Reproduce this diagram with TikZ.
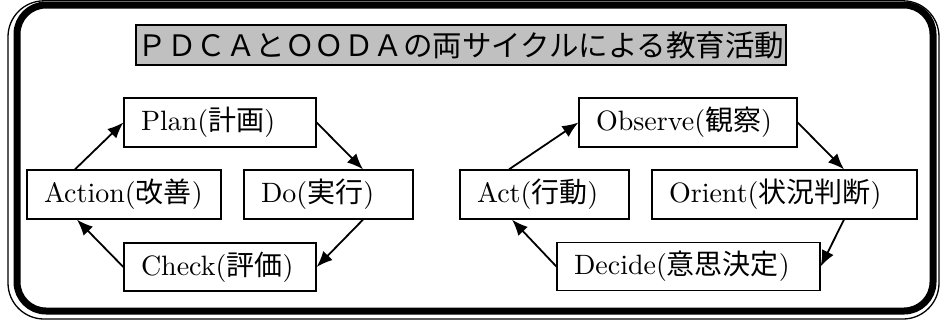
\documentclass[tikz,border=0pt]{standalone}
\usepackage{fontspec}
\setmainfont{lmroman10-regular}[Extension=.otf]
\newfontfamily\jp{Noto Sans CJK JP}
\usetikzlibrary{arrows.meta,calc}
\definecolor{titlegray}{RGB}{192,192,192}
\begin{document}
\begin{tikzpicture}[x=1pt,y=-1pt,
  stepbox/.style={draw,line width=1.3pt,minimum height=49pt,inner xsep=17pt,inner ysep=0pt,align=left,font=\fontsize{28}{30}\selectfont},
  flow/.style={line width=1.8pt,-{Latex[length=16pt,width=13pt]},shorten >=0pt}]
\useasboundingbox (0,0) rectangle (944,322);
% frame
\draw[line width=1.3pt,rounded corners=36pt] (8,0.8) rectangle (939,319);
\draw[line width=7pt,rounded corners=29pt] (17,5) rectangle (933,311);
% title
\node[draw,fill=titlegray,line width=1.3pt,minimum width=650pt,minimum height=40pt,inner sep=0pt,font=\fontsize{29.5}{30}\selectfont\jp] (title) at (461,45) {ＰＤＣＡとＯＯＤＡの両サイクルによる教育活動};
% PDCA
\node[stepbox,text width=158pt] (plan) at (220,122.5) {Plan({\jp 計画})};
\node[stepbox,text width=160pt] (action) at (124,194.5) {Action({\jp 改善})};
\node[stepbox,text width=135pt] (do) at (328.5,194.5) {Do({\jp 実行})};
\node[stepbox,text width=158pt,minimum height=48pt] (check) at (220,267) {Check({\jp 評価})};
% OODA
\node[stepbox,text width=184pt] (observe) at (688,122.5) {Observe({\jp 観察})};
\node[stepbox,text width=135pt] (act) at (544.5,194.5) {Act({\jp 行動})};
\node[stepbox,text width=231pt] (orient) at (784.5,194.5) {Orient({\jp 状況判断})};
\node[stepbox,text width=229pt,minimum height=48pt] (decide) at (688.5,266.5) {Decide({\jp 意思決定})};
% arrows PDCA
\draw[flow] ([xshift=-49pt]action.north) -- (plan.west);
\draw[flow] (plan.east) -- ([xshift=34.5pt]do.north);
\draw[flow] ([xshift=34.5pt]do.south) -- (check.east);
\draw[flow] (check.west) -- ([xshift=-47pt]action.south);
% arrows OODA
\draw[flow] ([xshift=-35.5pt]act.north) -- (observe.west);
\draw[flow] (observe.east) -- ([xshift=59.5pt]orient.north);
\draw[flow] ([xshift=59.5pt]orient.south) -- (decide.east);
\draw[flow] (decide.west) -- ([xshift=-32.5pt]act.south);
\end{tikzpicture}
\end{document}
